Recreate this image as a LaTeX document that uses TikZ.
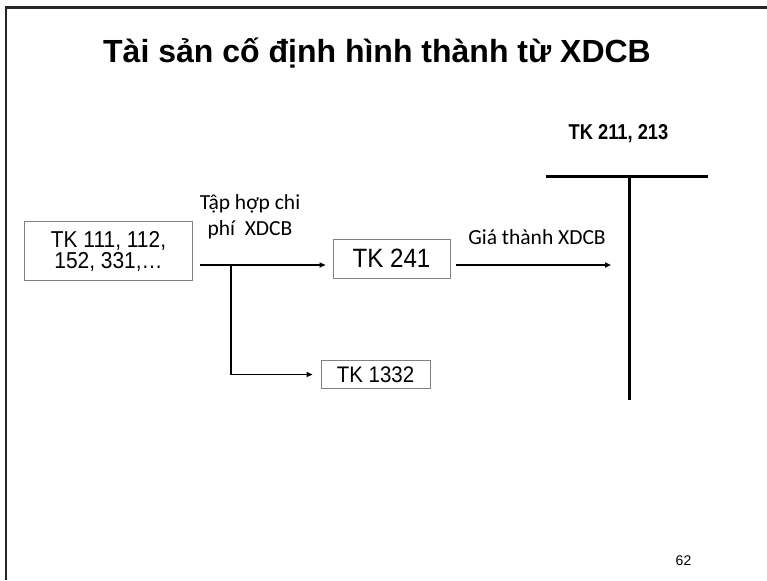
\documentclass[tikz,border=0pt]{standalone}
\usepackage{fontspec}
\setmainfont{Liberation Sans}
\newfontfamily\calfont{Carlito}
\newfontfamily\boxfont[FakeStretch=0.91]{Liberation Sans}
\newfontfamily\narrowfont[FakeStretch=0.85]{Liberation Sans}
\usetikzlibrary{arrows.meta, positioning, calc}

\begin{document}
\begin{tikzpicture}[
    x=1pt, y=-1pt,
    acct/.style={draw=black!50, line width=0.9pt, align=center, inner sep=0pt},
    cpt/.style={font=\calfont\fontsize{21.5}{26}\selectfont, align=center, inner sep=0pt},
    ar/.style={-{Triangle[length=6pt,width=5pt]}, line width=1.8pt},
    tline/.style={line width=3.5pt}
  ]
    \useasboundingbox (0,0) rectangle (767,580);
    \draw[line width=2.6pt, draw=black!85] (6,580) -- (6,7.5) -- (767,7.5);

    \node[font=\bfseries\fontsize{32}{36}\selectfont, anchor=base, inner sep=0pt] (title) at (377,63)
      {Tài sản cố định hình thành từ XDCB};

    \node[acct, minimum width=168pt, minimum height=59pt, font=\boxfont\fontsize{23}{21}\selectfont] (src) at (108.5,251)
      {TK 111, 112,\\152, 331,\dots};
    \node[acct, minimum width=117pt, minimum height=39pt, font=\boxfont\fontsize{26.5}{28}\selectfont] (tk241) at (391.5,258.5) {TK 241};
    \node[acct, minimum width=109pt, minimum height=28pt, font=\boxfont\fontsize{22.5}{24}\selectfont] (tk1332) at (375.5,374.5) {TK 1332};

    \coordinate (fork) at (231,265);
    \coordinate (tin) at (611,265);
    \coordinate (tl) at (546,176.5);
    \coordinate (tr) at (708,176.5);
    \coordinate (ttop) at (629.5,176.5);
    \coordinate (tbot) at (629.5,399.5);

    % T account
    \draw[tline] (tl) -- (tr);
    \draw[line width=3pt] (ttop) -- (tbot);
    \node[font=\narrowfont\bfseries\fontsize{21.5}{24}\selectfont, anchor=base, inner sep=0pt] (tkname) at (618.5,140) {TK 211, 213};

    \draw[ar] ([xshift=7pt]src.east |- fork) -- ([xshift=-7pt]tk241.west |- fork);
    \draw[ar] (fork) |- ([xshift=-8pt]tk1332.west);
    \draw[ar] ([xshift=6pt]tk241.east |- fork) -- (tin);

    \node[cpt, anchor=base] (lbl1) at (250,235) {Tập hợp chi\\phí\ \ XDCB};
    \node[cpt, anchor=base] (lbl2) at (537,244) {Giá thành XDCB};

    \node[font=\fontsize{14}{16}\selectfont, anchor=base, inner sep=0pt] (pg) at (683.5,565) {62};
  \end{tikzpicture}
\end{document}
